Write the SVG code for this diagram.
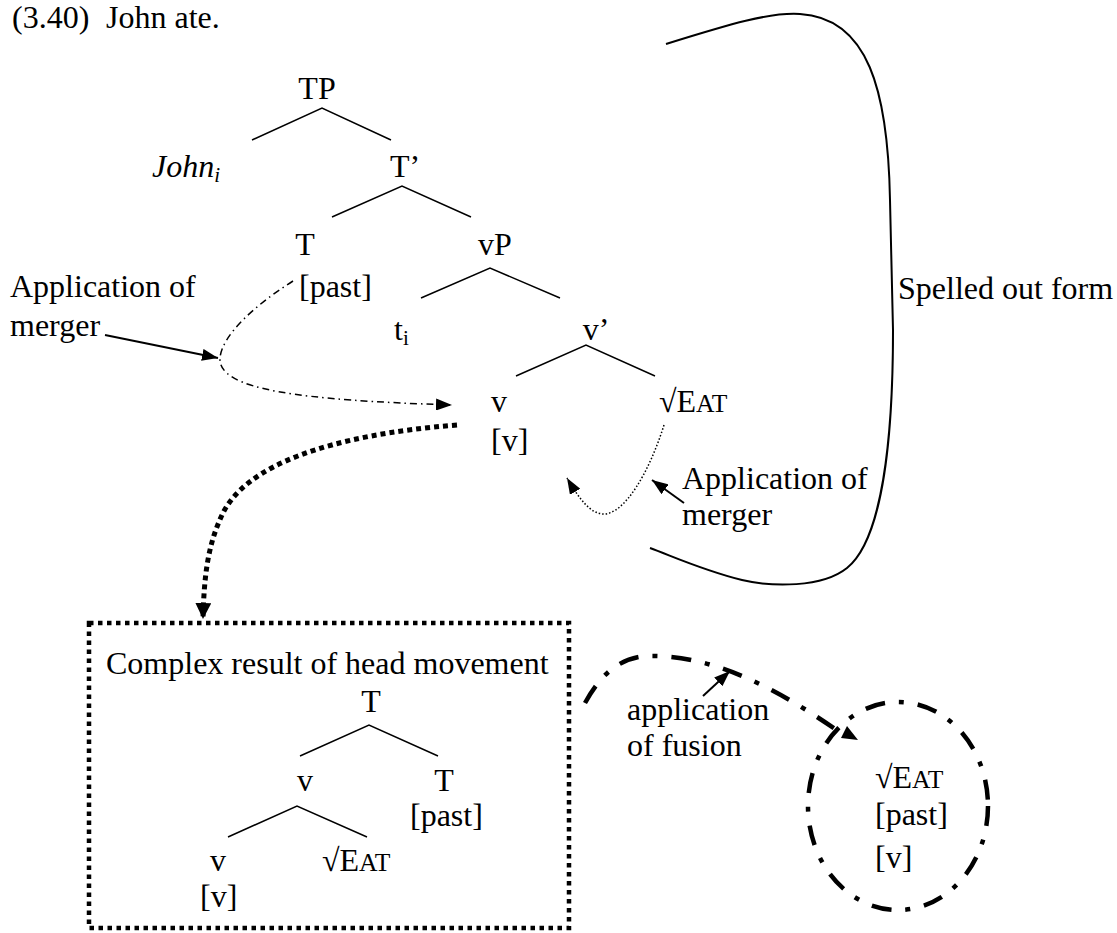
<svg xmlns="http://www.w3.org/2000/svg" width="1117" height="933" viewBox="0 0 1117 933">
<style>
.t{font-family:"Liberation Serif","Times New Roman",serif;font-size:32px;fill:#000}
.sc{font-size:25.6px}
.sub{font-size:21px}
.it{font-style:italic}
.m{text-anchor:middle}
.edge{stroke:#000;stroke-width:1.5;fill:none}
.conn{fill:none;stroke:#000}
</style>
<defs>
<marker id="ah" markerUnits="userSpaceOnUse" markerWidth="16" markerHeight="12" refX="16" refY="6" orient="auto"><path d="M0,0 L16,6 L0,12 z" fill="#000"/></marker>
<marker id="ahB" markerUnits="userSpaceOnUse" markerWidth="16" markerHeight="16" refX="16" refY="8" orient="auto"><path d="M0,0 L16,8 L0,16 z" fill="#000"/></marker>
</defs>
<rect width="1117" height="933" fill="#fff"/>

<g id="title">
<text class="t" x="12" y="28">(3.40)</text>
<text class="t" x="106" y="28">John ate.</text>
</g>

<g id="tree-main">
<g id="n-TP"><text class="t m" x="317" y="99">TP</text></g>
<g id="n-John"><text class="t it" x="152" y="177">John<tspan class="sub" dy="5">i</tspan></text></g>
<g id="n-Tbar"><text class="t m" x="405" y="177">T’</text></g>
<g id="n-T"><text class="t m" x="305" y="255">T</text><text class="t" x="299" y="297">[past]</text></g>
<g id="n-vP"><text class="t m" x="495" y="255">vP</text></g>
<g id="n-ti"><text class="t" x="394" y="340">t<tspan class="sub" dy="5">i</tspan></text></g>
<g id="n-vbar"><text class="t m" x="596" y="340">v’</text></g>
<g id="n-v"><text class="t" x="491" y="412">v</text><text class="t" x="491" y="451">[v]</text></g>
<g id="n-eat"><text class="t" x="659" y="412">√E<tspan class="sc">AT</tspan></text></g>
<g id="tree-edges">
<path class="edge" d="M252 140 L322 108 L391 140"/>
<path class="edge" d="M332 217 L402 186 L471 217"/>
<path class="edge" d="M421 298 L490 268 L560 298"/>
<path class="edge" d="M516 376 L586 345 L655 376"/>
</g>
</g>

<g id="label-merger-left"><text class="t" x="10" y="297">Application of</text><text class="t" x="10" y="336">merger</text></g>
<g id="label-merger-right"><text class="t" x="682" y="489">Application of</text><text class="t" x="682" y="525">merger</text></g>
<g id="label-spelled"><text class="t" x="898" y="299">Spelled out form</text></g>

<g id="box">
<rect x="89" y="623" width="480" height="305" fill="none" stroke="#000" stroke-width="4.5" stroke-dasharray="4.5 4.5"/>
<text class="t" x="106" y="674">Complex result of head movement</text>
<g id="b-T"><text class="t m" x="371" y="712">T</text></g>
<g id="b-v"><text class="t m" x="305" y="791">v</text></g>
<g id="b-T2"><text class="t m" x="444" y="791">T</text><text class="t" x="410" y="826">[past]</text></g>
<g id="b-v2"><text class="t m" x="218" y="871">v</text><text class="t" x="200" y="907">[v]</text></g>
<g id="b-eat"><text class="t" x="322" y="871">√E<tspan class="sc">AT</tspan></text></g>
<path class="edge" d="M300 756 L369 725 L438 756"/>
<path class="edge" d="M228 837 L297 806 L367 837"/>
</g>

<g id="fused">
<ellipse cx="898" cy="806" rx="90" ry="104" fill="none" stroke="#000" stroke-width="4.5" stroke-dasharray="20 14 5 14"/>
<text class="t" x="875" y="788">√E<tspan class="sc">AT</tspan></text>
<text class="t" x="875" y="825">[past]</text>
<text class="t" x="875" y="868">[v]</text>
</g>

<g id="label-fusion"><text class="t" x="627" y="720">application</text><text class="t" x="627" y="756">of fusion</text></g>

<g id="connectors">
<path class="conn" stroke-width="2" d="M666 44 C730 24 770 12 800 14 C868 18 888 90 890 200 L893 330 C893 440 882 540 847 568 C822 588 772 587 742 580 C702 570 672 556 650 548"/>
<line class="conn" stroke-width="2" x1="105" y1="335" x2="218" y2="358" marker-end="url(#ah)"/>
<path class="conn" stroke-width="1.5" stroke-dasharray="7 4 1.5 4" d="M293 281 C255 305 222 335 220 358 C218 390 300 400 452 405" marker-end="url(#ah)"/>
<path class="conn" stroke-width="5" stroke-dasharray="5 4" d="M457 425 C330 435 245 465 222 515 C208 545 204 575 203 619" marker-end="url(#ahB)"/>
<path class="conn" stroke-width="1.5" stroke-dasharray="1.5 2" d="M664 425 C650 470 625 515 603 514 C590 513 580 500 567 478" marker-end="url(#ah)"/>
<line class="conn" stroke-width="2" x1="684" y1="503" x2="652" y2="480" marker-end="url(#ah)"/>
<path class="conn" stroke-width="4.5" stroke-dasharray="20 14 5 14" d="M585 703 C600 675 620 657 648 656 C720 654 790 698 838 731"/>
<polygon points="847,726 858,740 841,738" fill="#000"/>
<line class="conn" stroke-width="2" x1="703" y1="696" x2="730" y2="671" marker-end="url(#ah)"/>
</g>
</svg>
